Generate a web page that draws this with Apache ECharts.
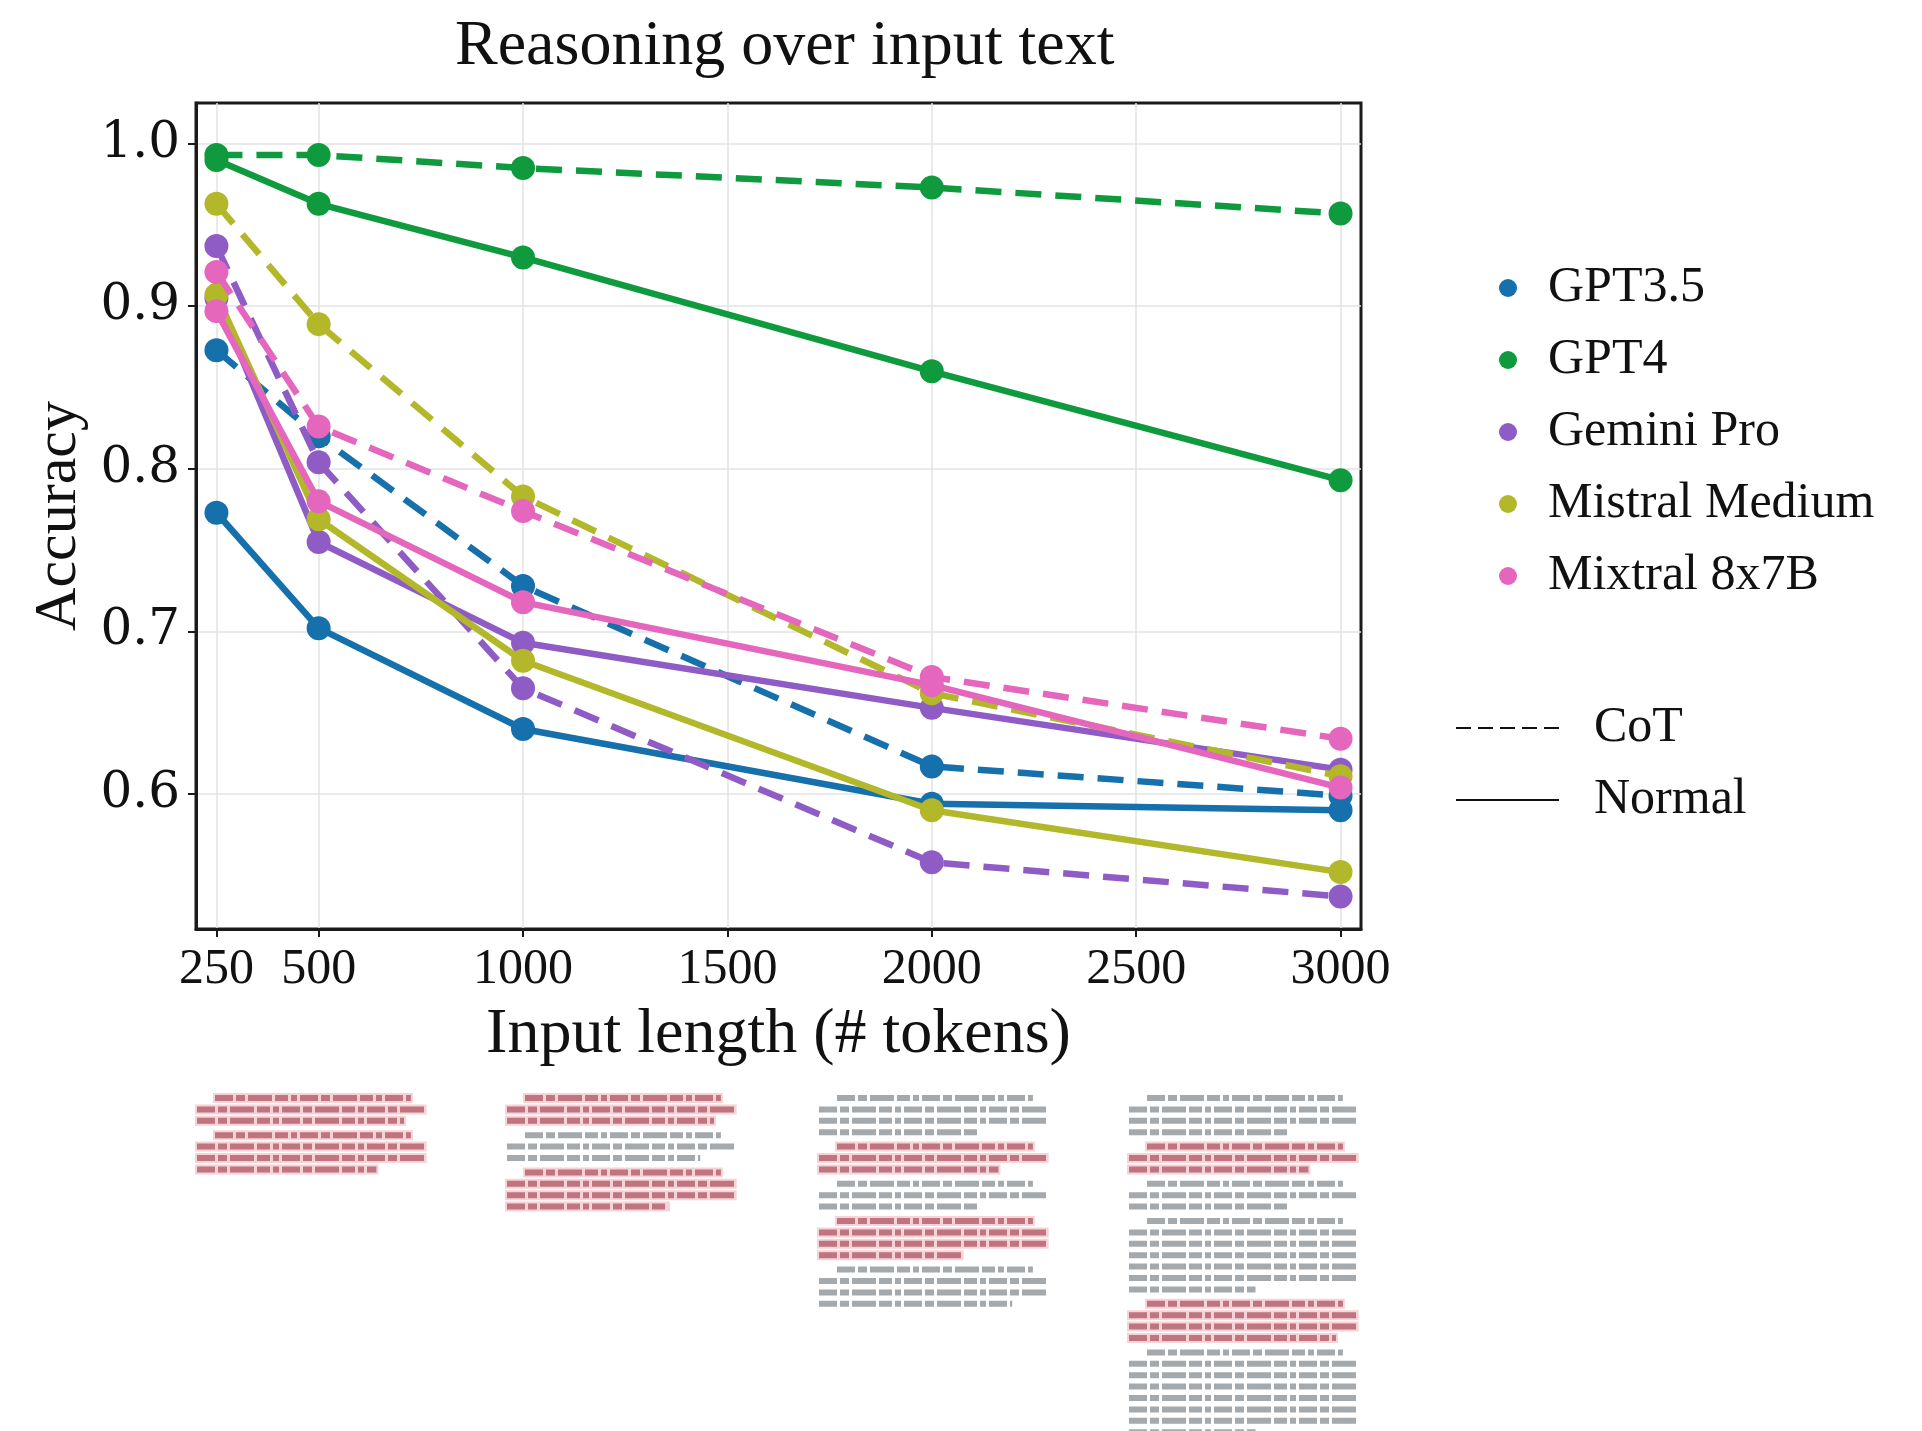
<!DOCTYPE html>
<html>
<head>
<meta charset="utf-8">
<title>Reasoning over input text</title>
<script src="https://cdn.jsdelivr.net/npm/echarts@6/dist/echarts.min.js"></script>
<style>
  html, body { margin: 0; padding: 0; background: #fff; }
  #chart { width: 1922px; height: 1431px; }
</style>
</head>
<body>
<div id="chart"></div>
<script>
// input lengths (x) and tick labels
const lengths = [250, 500, 1000, 2000, 3000];
const xTicks = [250, 500, 1000, 1500, 2000, 2500, 3000];
const yTicks = [0.6, 0.7, 0.8, 0.9, 1.0];

const models = ['GPT3.5', 'GPT4', 'Gemini Pro', 'Mistral Medium', 'Mixtral 8x7B'];
const colors = ['#1570ac', '#0e9a3d', '#8e5cc4', '#b3b72a', '#e466bd'];

// accuracy, one value per input length
const gpt35Normal   = [0.773, 0.702, 0.640, 0.594, 0.590];
const gpt35Cot      = [0.873, 0.820, 0.728, 0.617, 0.599];
const gpt4Normal    = [0.990, 0.963, 0.930, 0.860, 0.793];
const gpt4Cot       = [0.993, 0.993, 0.985, 0.973, 0.957];
const geminiNormal  = [0.905, 0.755, 0.693, 0.653, 0.615];
const geminiCot     = [0.937, 0.804, 0.665, 0.558, 0.537];
const mistralNormal = [0.907, 0.769, 0.682, 0.590, 0.552];
const mistralCot    = [0.963, 0.889, 0.783, 0.662, 0.611];
const mixtralNormal = [0.897, 0.780, 0.718, 0.667, 0.604];
const mixtralCot    = [0.921, 0.826, 0.774, 0.672, 0.634];

const normalVals = [gpt35Normal, gpt4Normal, geminiNormal, mistralNormal, mixtralNormal];
const cotVals = [gpt35Cot, gpt4Cot, geminiCot, mistralCot, mixtralCot];

// paragraph layout of the small document thumbnails under the chart ('r' = highlighted, 'g' = plain)
const docs = [
  [['r', 3], ['r', 4]],
  [['r', 3], ['g', 3], ['r', 4]],
  [['g', 4], ['r', 3], ['g', 3], ['r', 4], ['g', 4]],
  [['g', 4], ['r', 3], ['g', 3], ['g', 7], ['r', 4], ['g', 8]]
];

const serif = '"Liberation Serif", "Times New Roman", serif';
const DASH = [26, 14];

var series = [];
models.forEach(function (m, k) {
  [[cotVals[k], DASH], [normalVals[k], 'solid']].forEach(function (p) {
    series.push({
      name: m,
      type: 'line',
      data: lengths.map(function (x, i) { return [x, p[0][i]]; }),
      symbol: 'circle',
      symbolSize: 24,
      lineStyle: { width: 6.5, type: p[1], color: colors[k] },
      itemStyle: { color: colors[k] },
      emphasis: { disabled: true },
      z: 2 + k
    });
  });
});
// style-only entries for the second legend
series.push({ name: 'CoT', type: 'line', data: [], symbol: 'none',
  lineStyle: { width: 2.5, type: [15, 7], color: '#111' }, itemStyle: { color: '#111' } });
series.push({ name: 'Normal', type: 'line', data: [], symbol: 'none',
  lineStyle: { width: 2.5, type: 'solid', color: '#111' }, itemStyle: { color: '#111' } });

// thumbnails drawn as graphic elements
var graphics = [];
var colX = [197, 507, 819, 1129], colW = 230, top0 = 1098, pitch = 11.4, paraGap = 3;
var lastFrac = [0.78, 0.62, 0.9, 0.7, 0.55, 0.84];
docs.forEach(function (paras, c) {
  var y = top0, n = 0;
  paras.forEach(function (p) {
    var red = p[0] === 'r';
    for (var i = 0; i < p[1]; i++) {
      var x0 = colX[c] + (i === 0 ? 18 : 0);
      var x1 = colX[c] + (i === p[1] - 1 ? colW * lastFrac[n % lastFrac.length] : colW * (i === 0 ? 0.93 : 0.99));
      if (red) {
        graphics.push({ type: 'rect', shape: { x: x0 - 2, y: y - 5, width: x1 - x0 + 4, height: 10 },
          style: { fill: '#f6d3d6' }, silent: true });
      }
      graphics.push({ type: 'line', shape: { x1: x0, y1: y, x2: x1, y2: y },
        style: { stroke: red ? '#c07480' : '#a4a9ae', lineWidth: 6, lineDash: [18, 3, 9, 3, 24, 3, 13, 3, 6, 3] },
        silent: true });
      y += pitch; n++;
    }
    y += paraGap;
  });
});

var chart = echarts.init(document.getElementById('chart'));
chart.setOption({
  animation: false,
  backgroundColor: '#fff',
  title: {
    text: 'Reasoning over input text',
    left: 450, top: 10,
    textStyle: { fontFamily: serif, fontSize: 64, fontWeight: 'normal', color: '#111' }
  },
  grid: {
    left: 196, top: 103, right: 561, bottom: 502,
    show: true, borderColor: '#1a1a1a', borderWidth: 3, backgroundColor: '#fff'
  },
  legend: [{
    data: models,
    orient: 'vertical',
    left: 1494, top: 258,
    icon: 'circle',
    itemWidth: 18, itemHeight: 18,
    itemGap: 22,
    selectedMode: false,
    textStyle: { fontFamily: serif, fontSize: 50, color: '#111', lineHeight: 50, padding: [0, 0, 0, 26] }
  }, {
    data: ['CoT', 'Normal'],
    orient: 'vertical',
    left: 1450, top: 698,
    itemWidth: 103, itemHeight: 14,
    itemGap: 22,
    selectedMode: false,
    itemStyle: { opacity: 0 },
    textStyle: { fontFamily: serif, fontSize: 50, color: '#111', lineHeight: 50, padding: [0, 0, 0, 30] }
  }],
  xAxis: {
    type: 'value',
    min: 200, max: 3050,
    name: 'Input length (# tokens)',
    nameLocation: 'middle',
    nameGap: 74,
    nameTextStyle: { fontFamily: serif, fontSize: 64, color: '#111' },
    axisLine: { show: true, lineStyle: { color: '#1a1a1a', width: 3 } },
    axisTick: { show: true, length: 8, lineStyle: { color: '#1a1a1a', width: 2 }, customValues: xTicks },
    axisLabel: {
      customValues: xTicks, margin: 16, fontFamily: serif, fontSize: 50, color: '#111',
      formatter: function (v) { return String(v); }
    },
    splitLine: { show: true, lineStyle: { color: '#e3e3e3', width: 1.5 } }
  },
  yAxis: {
    type: 'value',
    min: 0.517, max: 1.025,
    name: 'Accuracy',
    nameLocation: 'middle',
    nameGap: 100,
    nameTextStyle: { fontFamily: serif, fontSize: 60, color: '#111' },
    axisLine: { show: true, lineStyle: { color: '#1a1a1a', width: 3 } },
    axisTick: { show: true, length: 8, lineStyle: { color: '#1a1a1a', width: 2 }, customValues: yTicks },
    axisLabel: {
      customValues: yTicks, margin: 16,
      fontFamily: '"DejaVu Serif", serif', fontSize: 50, color: '#111',
      formatter: function (v) { return v.toFixed(1); }
    },
    splitLine: { show: true, lineStyle: { color: '#e3e3e3', width: 1.5 } }
  },
  graphic: graphics,
  series: series
});
</script>
</body>
</html>
